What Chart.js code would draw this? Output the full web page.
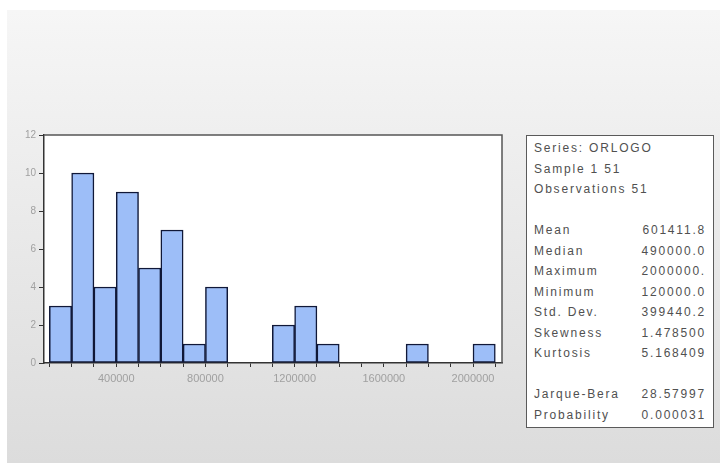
<!DOCTYPE html>
<html>
<head>
<meta charset="utf-8">
<script src="https://cdn.jsdelivr.net/npm/chart.js"></script>
<style>
    html, body { margin: 0; padding: 0; background: #fff; }
    #wrap { position: relative; width: 725px; height: 463px; overflow: hidden; }
    #chart { position: absolute; left: 0; top: 0; }
    #stats {
        position: absolute; left: 526px; top: 135px; width: 188px; height: 293px;
        box-sizing: border-box; border: 1.5px solid #5a5a5a; background: #fff;
        padding: 2px 7px 0 7px;
        font-family: "Liberation Sans", Arial, sans-serif; font-size: 12px;
        letter-spacing: 1.8px; color: #505050;
    }
    .row { height: 20.5px; line-height: 20.5px; display: flex; justify-content: space-between; white-space: nowrap; }
</style>
</head>
<body>
<div id="wrap">
    <canvas id="chart" width="725" height="463"></canvas>
    <div id="stats"></div>
</div>
<script>
// --- Данные гистограммы ---
const binCenters = [150000, 250000, 350000, 450000, 550000, 650000, 750000, 850000, 950000, 1050000,
                    1150000, 1250000, 1350000, 1450000, 1550000, 1650000, 1750000, 1850000, 1950000, 2050000];
const binCounts = [3, 10, 4, 9, 5, 7, 1, 4, 0, 0, 2, 3, 1, 0, 0, 0, 1, 0, 0, 1];

const xTickValues = [100000, 200000, 300000, 400000, 500000, 600000, 700000, 800000, 900000, 1000000, 1100000,
                     1200000, 1300000, 1400000, 1500000, 1600000, 1700000, 1800000, 1900000, 2000000, 2100000];
const xTickLabels = ['400000', '800000', '1200000', '1600000', '2000000'];
const yTickValues = [0, 2, 4, 6, 8, 10, 12];

// --- Статистика справа ---
const statHeader = ['Series: ORLOGO', 'Sample 1 51', 'Observations 51'];
const statNames = ['Mean', 'Median', 'Maximum', 'Minimum', 'Std. Dev.', 'Skewness', 'Kurtosis'];
const statValues = ['601411.8', '490000.0', '2000000.', '120000.0', '399440.2', '1.478500', '5.168409'];
const testNames = ['Jarque-Bera', 'Probability'];
const testValues = ['28.57997', '0.000031'];

// --- Блок статистики ---
const statsBox = document.getElementById('stats');
function addRow(left, right) {
    const row = document.createElement('div');
    row.className = 'row';
    const a = document.createElement('span');
    a.textContent = left;
    const b = document.createElement('span');
    b.textContent = right;
    row.appendChild(a);
    row.appendChild(b);
    statsBox.appendChild(row);
}
statHeader.forEach(t => addRow(t, ''));
addRow('', '');
statNames.forEach((n, i) => addRow(n, statValues[i]));
addRow('', '');
testNames.forEach((n, i) => addRow(n, testValues[i]));

// --- Фон и рамка ---
const panelPlugin = {
    id: 'panel',
    beforeDraw(chart) {
        const ctx = chart.ctx;
        const area = chart.chartArea;
        ctx.save();
        ctx.fillStyle = '#ffffff';
        ctx.fillRect(0, 0, chart.width, chart.height);
        const g = ctx.createLinearGradient(0, 10, 0, chart.height);
        g.addColorStop(0, '#f6f6f6');
        g.addColorStop(1, '#dcdcdc');
        ctx.fillStyle = g;
        ctx.fillRect(7, 10, 713, chart.height - 10);
        ctx.fillStyle = '#ffffff';
        ctx.fillRect(area.left, area.top, area.right - area.left, area.bottom - area.top);
        ctx.restore();
    },
    afterDraw(chart) {
        const ctx = chart.ctx;
        const area = chart.chartArea;
        ctx.save();
        ctx.strokeStyle = '#555555';
        ctx.lineWidth = 1.5;
        ctx.beginPath();
        ctx.moveTo(area.left, area.top);
        ctx.lineTo(area.right, area.top);
        ctx.lineTo(area.right, area.bottom);
        ctx.stroke();
        ctx.restore();
    }
};

const ctx = document.getElementById('chart').getContext('2d');
new Chart(ctx, {
    type: 'bar',
    data: {
        datasets: [{
            data: binCenters.map((x, i) => ({ x: x, y: binCounts[i] })),
            backgroundColor: '#9dbef8',
            borderColor: '#101838',
            borderWidth: 1.5,
            borderSkipped: false,
            barPercentage: 1,
            categoryPercentage: 1
        }]
    },
    options: {
        responsive: false,
        animation: false,
        layout: { padding: { left: 20, top: 135, right: 223, bottom: 70 } },
        plugins: { legend: { display: false }, tooltip: { enabled: false } },
        scales: {
            x: {
                type: 'linear',
                offset: false,
                min: 76000,
                max: 2130000,
                afterBuildTicks: scale => { scale.ticks = xTickValues.map(v => ({ value: v })); },
                afterFit: scale => { scale.height = 30; },
                ticks: {
                    autoSkip: false,
                    maxRotation: 0,
                    padding: 5,
                    color: '#a0a0a0',
                    font: { family: 'Liberation Sans', size: 11 },
                    callback: v => xTickLabels.includes(String(v)) ? String(v) : ''
                },
                grid: { offset: false, drawOnChartArea: false, drawTicks: true, tickLength: 4, color: '#333333' },
                border: { display: true, color: '#333333', width: 1.5 }
            },
            y: {
                min: 0,
                max: 12,
                afterBuildTicks: scale => { scale.ticks = yTickValues.map(v => ({ value: v })); },
                afterFit: scale => { scale.width = 24; },
                ticks: {
                    padding: 3,
                    color: '#a0a0a0',
                    font: { family: 'Liberation Sans', size: 10 }
                },
                grid: { drawOnChartArea: false, drawTicks: true, tickLength: 5, color: '#333333' },
                border: { display: true, color: '#333333', width: 1.5 }
            }
        }
    },
    plugins: [panelPlugin]
});
</script>
</body>
</html>
